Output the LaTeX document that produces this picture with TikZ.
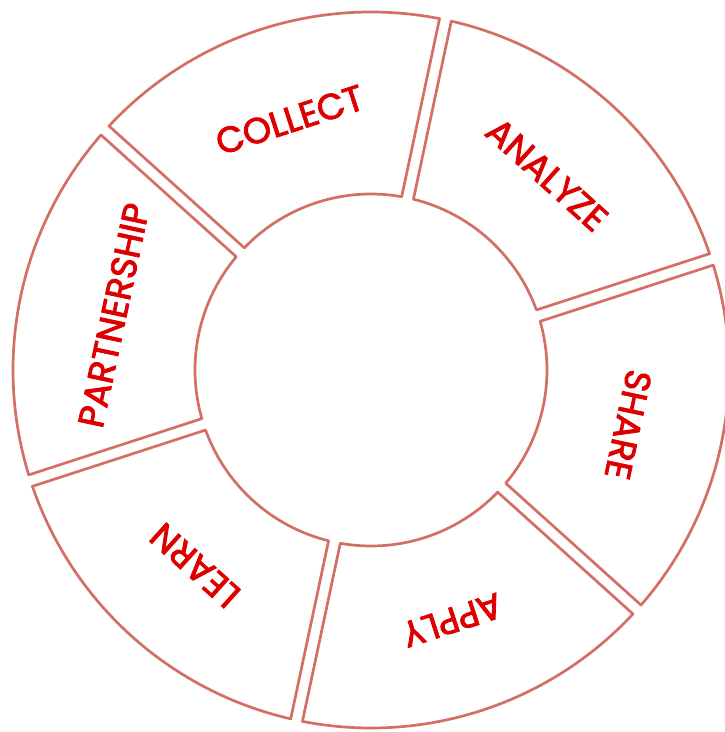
\documentclass[tikz,border=0pt]{standalone}
\usepackage{fontspec}
\setmainfont{Poppins}
\newfontfamily\labfont{Poppins}[FakeBold=2.4]
\definecolor{ringc}{RGB}{210,112,102}
\definecolor{labc}{RGB}{222,0,0}
\begin{document}
\begin{tikzpicture}[x=1pt,y=1pt,
  seg/.style={draw=ringc, line width=2.7pt, line join=round},
  lbl/.style={text=labc, font=\labfont\fontsize{36}{36}\selectfont, inner sep=0pt}]
\useasboundingbox (0,0) rectangle (725,732);
\begin{scope}[shift={(371,362)}]
\pgfmathsetmacro\so{asin(6/358)}
\pgfmathsetmacro\si{asin(6/176)}
\foreach \a in {18,78,138,198,258,318}{
  \pgfmathsetmacro\b{\a+60}
  \draw[seg] ({\a+\so}:358) arc[start angle={\a+\so}, end angle={\b-\so}, radius=358]
     -- ({\b-\si}:176) arc[start angle={\b-\si}, end angle={\a+\si}, radius=176] -- cycle;
}
\foreach \m/\t/\n in {48/ANALYZE/analyze,108/COLLECT/collect,168/PARTNERSHIP/partnership,228/LEARN/learn,288/APPLY/apply,348/SHARE/share}{
  \node[lbl, rotate=\m-90] (\n) at (\m:263) {\t};
}
\end{scope}
\end{tikzpicture}
\end{document}
